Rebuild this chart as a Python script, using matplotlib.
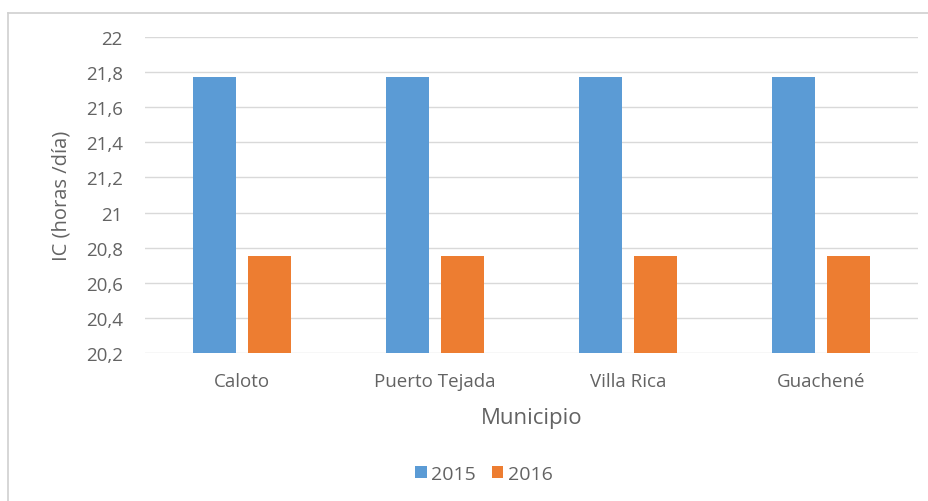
import matplotlib
matplotlib.use("Agg")
import matplotlib.pyplot as plt
from matplotlib.lines import Line2D
from matplotlib.ticker import FuncFormatter
import numpy as np

categories = ["Caloto", "Puerto Tejada", "Villa Rica", "Guachené"]
series_2015 = [21.77, 21.77, 21.77, 21.77]
series_2016 = [20.75, 20.75, 20.75, 20.75]
series_names = ["2015", "2016"]
y_ticks = [20.2, 20.4, 20.6, 20.8, 21.0, 21.2, 21.4, 21.6, 21.8, 22.0]

plt.rcParams['font.family'] = ['Open Sans', 'DejaVu Sans']
text_color = "#636363"

W, H = 929, 502
fig = plt.figure(figsize=(W / 100, H / 100), dpi=100)
ax = fig.add_axes([145 / W, 1 - 354 / H, (918 - 145) / W, (354 - 38) / H])

x = np.arange(len(categories))
bw = 0.223
off = 0.142
ax.bar(x - off, series_2015, width=bw, color="#5b9bd5", label=series_names[0], zorder=3)
ax.bar(x + off, series_2016, width=bw, color="#ed7d31", label=series_names[1], zorder=3)

ax.set_xlim(-0.5, len(categories) - 0.5)
ax.set_ylim(20.2, 22.0)
ax.set_yticks(y_ticks)
ax.yaxis.set_major_formatter(FuncFormatter(lambda v, p: ("%g" % round(v, 1)).replace(".", ",")))
ax.set_xticks(x)
ax.set_xticklabels(categories)
ax.grid(axis="y", color="#d9d9d9", linewidth=1, zorder=0)
ax.set_axisbelow(True)
for s in ax.spines.values():
    s.set_visible(False)
ax.tick_params(axis="both", length=0, colors=text_color, labelsize=13.5)
ax.tick_params(axis="x", pad=14)
ax.tick_params(axis="y", pad=16)

ax.set_xlabel("Municipio", color=text_color, fontsize=16, labelpad=12)
ax.set_ylabel("IC (horas /día)", color=text_color, fontsize=14.5, labelpad=10)

leg = fig.legend(loc="center", bbox_to_anchor=(484 / W, 1 - 475 / H), ncol=2, frameon=False,
                 fontsize=14, handlelength=0.6, handleheight=0.6, handletextpad=0.25, columnspacing=0.8)
for t in leg.get_texts():
    t.set_color(text_color)

# chart area border (top and left visible)
fig.add_artist(Line2D([8 / W, 1.0], [1 - 14 / H, 1 - 14 / H], transform=fig.transFigure, color="#d0d0d0", linewidth=1.2))
fig.add_artist(Line2D([8 / W, 8 / W], [0.0, 1 - 14 / H], transform=fig.transFigure, color="#d0d0d0", linewidth=1.2))

fig.savefig("out.png", dpi=100)
